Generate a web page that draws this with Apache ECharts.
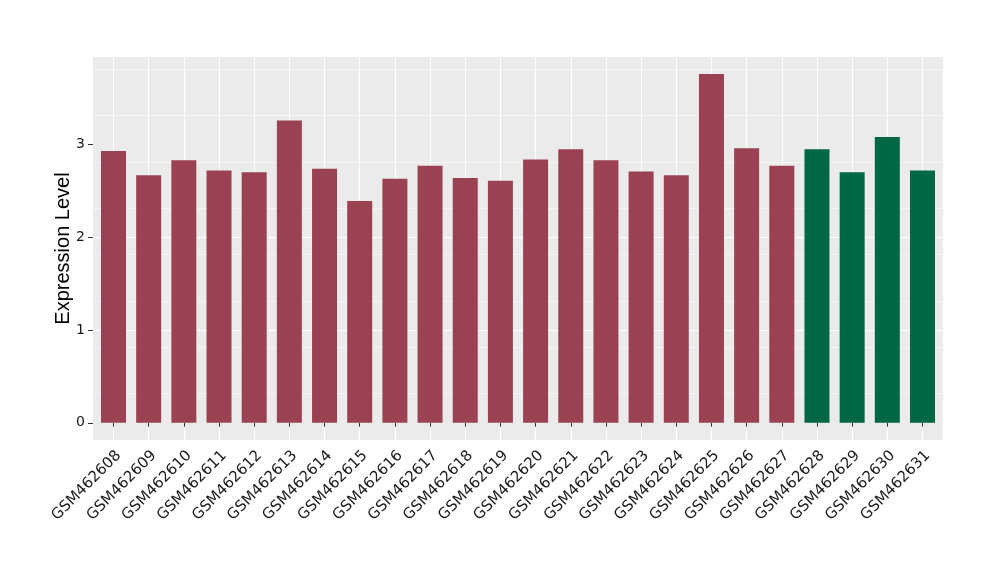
<!DOCTYPE html>
<html>
<head>
<meta charset="utf-8">
<script src="https://cdn.jsdelivr.net/npm/echarts@6/dist/echarts.min.js"></script>
<style>html,body{margin:0;padding:0;background:#fff;}#chart{width:1000px;height:580px;}</style>
</head>
<body>
<div id="chart"></div>
<script>
const categories = ['GSM462608','GSM462609','GSM462610','GSM462611','GSM462612','GSM462613','GSM462614','GSM462615','GSM462616','GSM462617','GSM462618','GSM462619','GSM462620','GSM462621','GSM462622','GSM462623','GSM462624','GSM462625','GSM462626','GSM462627','GSM462628','GSM462629','GSM462630','GSM462631'];
const values = [2.93,2.67,2.83,2.72,2.70,3.26,2.74,2.39,2.63,2.77,2.64,2.61,2.84,2.95,2.83,2.71,2.67,3.76,2.96,2.77,2.95,2.70,3.08,2.72];
const groups = [0,0,0,0,0,0,0,0,0,0,0,0,0,0,0,0,0,0,0,0,1,1,1,1];
const groupColors = ['#9A4251','#016843'];
const yTicks = [0,1,2,3];
const yMin = -0.186, yMax = 3.944;

const chart = echarts.init(document.getElementById('chart'), null, {renderer:'canvas'});
const font = '"DejaVu Sans", Verdana, sans-serif';
const titleFont = '"Liberation Sans", Arial, Helvetica, sans-serif';
chart.setOption({
  animation:false,
  backgroundColor:'#fff',
  grid:[
    {left:93,right:57,top:57,bottom:140,show:true,backgroundColor:'#EBEBEB',borderWidth:0},
    {left:113.5,right:77.5,top:57,bottom:140}
  ],
  xAxis:[
    {gridIndex:0,type:'value',min:0,max:1,show:false},
    {gridIndex:1,type:'category',data:categories,boundaryGap:false,
     axisLine:{show:false},
     axisTick:{show:true,interval:0,length:4,lineStyle:{color:'#333',width:1}},
     axisLabel:{interval:0,rotate:45,fontSize:15,fontFamily:font,color:'#1a1a1a',margin:8,verticalAlign:'top'},
     splitLine:{show:true,interval:0,lineStyle:{color:'#fff',width:1.1}}}
  ],
  yAxis:[
    {gridIndex:0,type:'value',min:yMin,max:yMax,interval:1,
     axisLine:{show:false},
     axisTick:{show:true,customValues:yTicks,length:5,lineStyle:{color:'#333',width:1}},
     axisLabel:{customValues:yTicks,fontSize:14,fontFamily:font,color:'#1a1a1a',margin:8},
     splitLine:{show:true,showMinLine:false,showMaxLine:false,lineStyle:{color:'#fff',width:1.1}},
     name:'Expression Level',nameLocation:'middle',nameGap:20,nameMoveOverlap:false,
     nameTextStyle:{fontSize:20,fontFamily:titleFont,color:'#000'}},
    {gridIndex:0,type:'value',min:yMin,max:yMax,interval:0.5,position:'left',
     axisLine:{show:false},axisTick:{show:false},axisLabel:{show:false},
     splitLine:{show:true,showMinLine:false,showMaxLine:false,lineStyle:{color:'#fff',width:0.55}}},
    {gridIndex:1,type:'value',min:yMin,max:yMax,show:false}
  ],
  series:[{
    type:'bar',xAxisIndex:1,yAxisIndex:2,barWidth:25,clip:false,z:3,
    data:values.map((v,i)=>({value:v,itemStyle:{color:groupColors[groups[i]]}}))
  }]
});
</script>
</body>
</html>
